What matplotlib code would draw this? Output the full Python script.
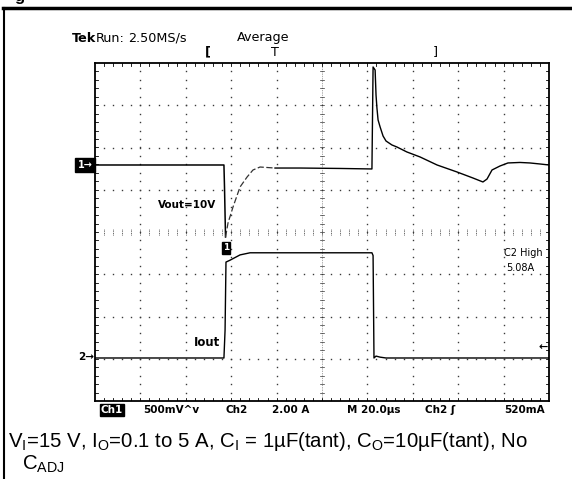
import matplotlib
matplotlib.use("Agg")
import matplotlib.pyplot as plt
import numpy as np

# ---------------- data ----------------
# time in microseconds (M 20.0 us/div, 10 divisions)
t_vout = [0, 56.8, 57.05, 57.5]
vout_step = [0, 0, -260, -852]          # mV deviation of Vout (10 V nominal)
t_vout_rec = [57.5, 58.6, 60.8, 63.9, 67.0, 69.6, 72.7, 79.3]
vout_rec = [-852, -686, -497, -260, -142, -59, -24, -36]
t_vout2 = [79.3, 90.3, 107.9, 122.0, 122.5, 123.4, 123.8, 124.2, 124.7, 125.6,
           126.9, 128.2, 130.8, 133.0, 137.4, 143.2, 150.7, 159.5, 166.5,
           170.9, 172.7, 174.9, 178.4, 181.9, 187.2, 191.6, 196.0, 200.0]
vout2 = [-36, -36, -41, -47, 1160, 1124, 828, 675, 533, 450,
         343, 284, 237, 213, 154, 95, 0, -83, -154,
         -201, -166, -59, -12, 24, 30, 24, 12, 0]

t_iout = [0, 56.8, 57.3, 57.7, 59.5, 63.9, 68.3, 90.3, 122.0, 122.5,
          122.9, 123.8, 125.6, 128.2, 200.0]
iout = [0.1, 0.1, 1.42, 4.64, 4.73, 4.98, 5.08, 5.08, 5.08, 4.95,
        0.1, 0.19, 0.14, 0.1, 0.1]

# scope settings
us_per_div = 20.0
mv_per_div = 500.0
a_per_div = 2.0
ch1_ref_div = 5.586   # position of Ch1 marker (divisions from bottom)
ch2_ref_div = 0.968   # position of Ch2 zero (divisions from bottom)

W, H = 572, 479
fig = plt.figure(figsize=(W / 100, H / 100), dpi=100)
fig.patch.set_facecolor("white")

L, R, T, B = 95, 549, 63, 401
ax = fig.add_axes([L / W, 1 - B / H, (R - L) / W, (B - T) / H])
ax.set_xlim(0, 10)
ax.set_ylim(0, 8)
ax.set_xticks([])
ax.set_yticks([])
for s in ax.spines.values():
    s.set_linewidth(1.3)
    s.set_color("black")


def fx(px):
    return px / W


def fy(py):
    return 1 - py / H


# ---------------- graticule ----------------
sub = np.arange(0.2, 10.0, 0.2)
subv = np.arange(0.2, 8.0, 0.2)
dot = dict(ls="none", marker="s", ms=1.0, mew=0, color="#3a3a3a")
for i in range(1, 10):
    if i == 5:
        continue
    ax.plot(np.full(len(subv), i), subv, **dot)
for j in range(1, 8):
    if j == 4:
        continue
    ax.plot(sub, np.full(len(sub), j), **dot)
# centre lines
ax.plot([5, 5], [0, 8], color="#555555", lw=0.5, ls=(0, (1, 1.5)))
for yy in subv:
    ax.plot([4.96, 5.04], [yy, yy], color="#333333", lw=0.5)
for xx in sub:
    ax.plot([xx, xx], [3.94, 4.06], color="#333333", lw=0.6, ls=(0, (1, 1)))
# border ticks
for yy in subv:
    ax.plot([0, 0.07], [yy, yy], color="black", lw=0.6)
    ax.plot([9.93, 10], [yy, yy], color="black", lw=0.6)
for xx in sub:
    ax.plot([xx, xx], [0, 0.08], color="black", lw=0.6)
    ax.plot([xx, xx], [7.92, 8], color="black", lw=0.6)


# ---------------- traces ----------------
def tdiv(t):
    return np.asarray(t) / us_per_div


def vdiv(v):
    return ch1_ref_div + np.asarray(v) / mv_per_div


def idiv(i):
    return ch2_ref_div + np.asarray(i) / a_per_div


ax.plot(tdiv(t_vout), vdiv(vout_step), color="black", lw=1.1)
ax.plot(tdiv(t_vout_rec), vdiv(vout_rec), color="#333333", lw=0.9, ls=(0, (5, 2)))
ax.plot(tdiv(t_vout2), vdiv(vout2), color="black", lw=1.0)
ax.plot(tdiv(t_iout), idiv(iout), color="black", lw=1.0)

# ---------------- annotations inside the screen ----------------
ax.text((187 - L) / 45.4, (B - 205) / 42.25, "Vout=10V", ha="center", va="center",
        fontweight="bold", fontsize=7.5, family="DejaVu Sans")
ax.text((207 - L) / 45.4, (B - 343) / 42.25, "Iout", ha="center", va="center",
        fontweight="bold", fontsize=8.5, family="DejaVu Sans")
ax.text((504 - L) / 45.4, (B - 253) / 42.25, "C2 High", ha="left", va="center",
        fontsize=7, family="DejaVu Sans")
ax.text((506 - L) / 45.4, (B - 268) / 42.25, "5.08A", ha="left", va="center",
        fontsize=7, family="DejaVu Sans")
ax.text((543 - L) / 45.4, (B - 347) / 42.25, "\u2190", ha="center", va="center",
        fontsize=8, fontweight="bold", family="DejaVu Sans")
ax.text((226 - L) / 45.4, (B - 248) / 42.25, "1", ha="center", va="center",
        fontsize=6.5, fontweight="bold", color="white", family="DejaVu Sans",
        bbox=dict(boxstyle="square,pad=0.15", fc="black", ec="black"))

# ---------------- markers outside the screen ----------------
fig.text(fx(85), fy(165), "1\u2192", ha="center", va="center", color="white",
         fontsize=7, fontweight="bold", family="DejaVu Sans",
         bbox=dict(boxstyle="square,pad=0.25", fc="black", ec="black"))
fig.text(fx(86), fy(357), "2\u2192", ha="center", va="center", color="black",
         fontsize=7.5, fontweight="bold", family="DejaVu Sans")

# ---------------- header ----------------
hdr = dict(va="center", fontsize=9.2, family="DejaVu Sans")
fig.text(fx(72), fy(38), "Tek", ha="left", fontweight="bold", **hdr)
fig.text(fx(96), fy(38), "Run:", ha="left", **hdr)
fig.text(fx(128), fy(38), "2.50MS/s", ha="left", **hdr)
fig.text(fx(237), fy(38), "Average", ha="left", **hdr)
fig.text(fx(208), fy(52), "[", ha="center", fontweight="bold", **hdr)
fig.text(fx(275), fy(52), "T", ha="center", **hdr)
fig.text(fx(435), fy(52), "]", ha="center", **hdr)

# ---------------- footer of the scope ----------------
ftr = dict(va="center", fontsize=7.5, fontweight="bold", family="DejaVu Sans")
fig.text(fx(112), fy(410), "Ch1", ha="center", color="white",
         bbox=dict(boxstyle="square,pad=0.1", fc="black", ec="black"), **ftr)
fig.text(fx(143), fy(410), "500mV^v", ha="left", **ftr)
fig.text(fx(225), fy(410), "Ch2", ha="left", **ftr)
fig.text(fx(272), fy(410), "2.00 A", ha="left", **ftr)
fig.text(fx(347), fy(410), "M 20.0\u00b5s", ha="left", **ftr)
fig.text(fx(425), fy(410), "Ch2 \u0283", ha="left", **ftr)
fig.text(fx(545), fy(410), "520mA", ha="right", **ftr)

# ---------------- caption ----------------
plt.rcParams["mathtext.fontset"] = "custom"
plt.rcParams["mathtext.rm"] = "Liberation Sans"
plt.rcParams["mathtext.it"] = "Liberation Sans"
cap = dict(fontsize=14.7, family="Liberation Sans", ha="left", va="baseline")
fig.text(fx(8), fy(447),
         r"V$_\mathregular{I}$=15 V, I$_\mathregular{O}$=0.1 to 5 A, "
         r"C$_\mathregular{I}$ = 1µF(tant), C$_\mathregular{O}$=10µF(tant), No", **cap)
fig.text(fx(22), fy(470), r"C$_\mathregular{ADJ}$", **cap)

# ---------------- outer frame and clipped heading ----------------
fig.add_artist(plt.Line2D([fx(4), fx(4)], [fy(8), 0], color="black", lw=1.5))
fig.add_artist(plt.Line2D([fx(3.3), 1], [fy(8), fy(8)], color="black", lw=2.5))
fig.text(fx(14), fy(1), "g", ha="left", va="baseline", fontsize=12,
         fontweight="bold", family="Liberation Sans")

fig.savefig("out.png", dpi=100, facecolor="white")
